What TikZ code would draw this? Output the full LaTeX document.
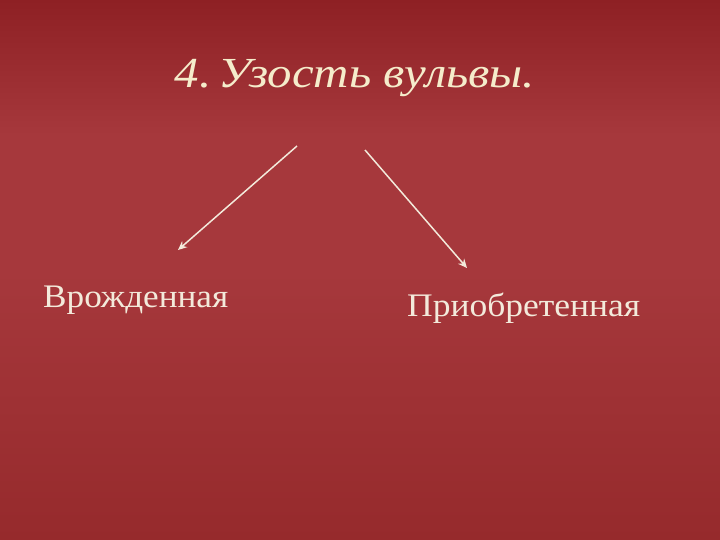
\documentclass[tikz,border=0pt]{standalone}
\usepackage{fontspec}
\setmainfont{Liberation Serif}
\usetikzlibrary{arrows.meta}
\definecolor{bgtop}{HTML}{8E2024}
\definecolor{bgmid}{HTML}{A6383C}
\definecolor{bgbot}{HTML}{962A2C}
\definecolor{cream}{HTML}{F5ECCB}
\definecolor{paletext}{HTML}{F3EADB}
\tikzset{
  titletext/.style={text=cream, font=\fontsize{43}{50}\selectfont\itshape, anchor=base, inner sep=0pt},
  bodytext/.style={text=paletext, font=\fontsize{33}{40}\selectfont, anchor=base west, inner sep=0pt},
  arrowline/.style={draw=paletext, line width=1.5pt, -{Stealth[length=9pt,width=8pt]}}
}
\begin{document}
\begin{tikzpicture}[x=1bp,y=-1bp]
\useasboundingbox (0,0) rectangle (720,540);
\shade[top color=bgtop, bottom color=bgmid, middle color=bgmid] (0,0) rectangle (720,270);
\shade[top color=bgmid, bottom color=bgbot] (0,270) rectangle (720,540);
\node[titletext] (title) at (355,88) {\scalebox{1.14}[1]{4.\hspace{0.15em}Узость вульвы.}};
\node[bodytext] (congenital) at (43,307) {\scalebox{1.07}[1]{Врожденная}};
\node[bodytext] (acquired) at (407,316) {\scalebox{1.08}[1]{Приобретенная}};
\coordinate (lstart) at (297,146);
\coordinate (rstart) at (365,150);
\coordinate (lend) at (178,250);
\coordinate (rend) at (467,268);
\draw[arrowline] (lstart) -- (lend);
\draw[arrowline] (rstart) -- (rend);
\end{tikzpicture}
\end{document}
